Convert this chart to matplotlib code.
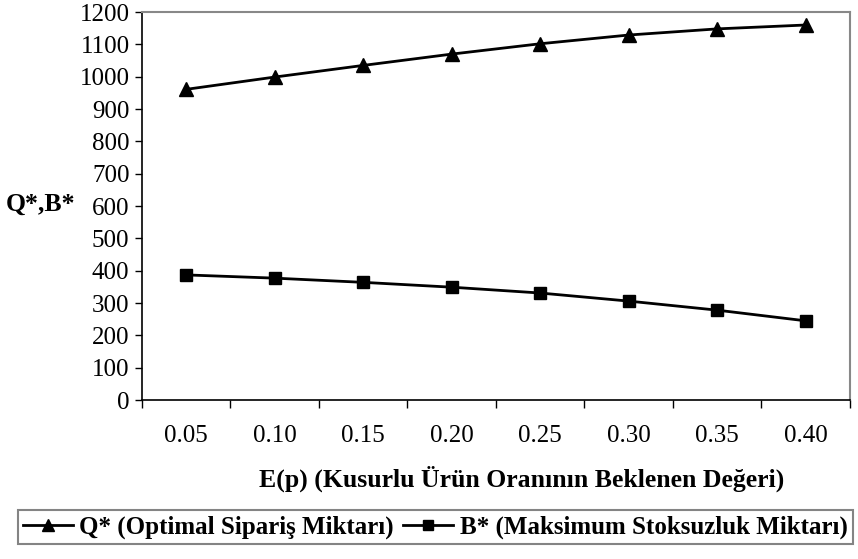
import matplotlib.pyplot as plt

categories = ['0.05', '0.10', '0.15', '0.20', '0.25', '0.30', '0.35', '0.40']
q_star = [961, 999, 1035, 1070, 1102, 1129, 1148, 1160]
b_star = [387, 377, 364, 349, 331, 306, 278, 245]

plt.rcParams['font.family'] = 'Liberation Serif'
plt.rcParams['font.size'] = 18

fig = plt.figure(figsize=(8.58, 5.59), dpi=100)
ax = fig.add_axes([0.1655, 0.2844, 0.825, 0.694])

pos = range(len(categories))
ax.plot(pos, q_star, color='black', lw=2, marker='^', ms=10,
        label='Q* (Optimal Sipariş Miktarı)')
ax.plot(pos, b_star, color='black', lw=2, marker='s', ms=9,
        label='B* (Maksimum Stoksuzluk Miktarı)')

ax.set_xlim(-0.5, len(categories) - 0.5)
ax.set_ylim(0, 1200)
ax.set_yticks(range(0, 1201, 100))
ax.set_xticks(list(pos))
ax.set_xticklabels(categories)
ax.set_xticks([i - 0.5 for i in range(len(categories) + 1)], minor=True)
ax.tick_params(axis='x', which='major', length=0, pad=18)
ax.tick_params(axis='x', which='minor', length=6, width=1)
ax.tick_params(axis='y', length=5, width=1, pad=4)

for side in ['top', 'right']:
    ax.spines[side].set_color('#888888')
    ax.spines[side].set_linewidth(1.5)
ax.spines['left'].set_linewidth(1.2)
ax.spines['bottom'].set_linewidth(1.2)

ax.set_xlabel('E(p) (Kusurlu Ürün Oranının Beklenen Değeri)',
              fontweight='bold', fontsize=18.5, va='center')
ax.xaxis.set_label_coords(0.537, -0.204)
ax.set_ylabel('Q*,B*', fontweight='bold', fontsize=18.5, rotation=0,
              ha='left', va='center')
ax.yaxis.set_label_coords(-0.193, 0.505)

leg = fig.legend(loc='center', bbox_to_anchor=(0.507, 0.057), ncol=2,
                 prop={'weight': 'bold', 'size': 18}, frameon=True,
                 fancybox=False, edgecolor='#666666', handlelength=2.0,
                 handletextpad=0.25, columnspacing=0.4, borderpad=0.2,
                 borderaxespad=0, markerscale=0.8)
leg.get_frame().set_linewidth(1.5)

fig.savefig('out.png', dpi=100)
